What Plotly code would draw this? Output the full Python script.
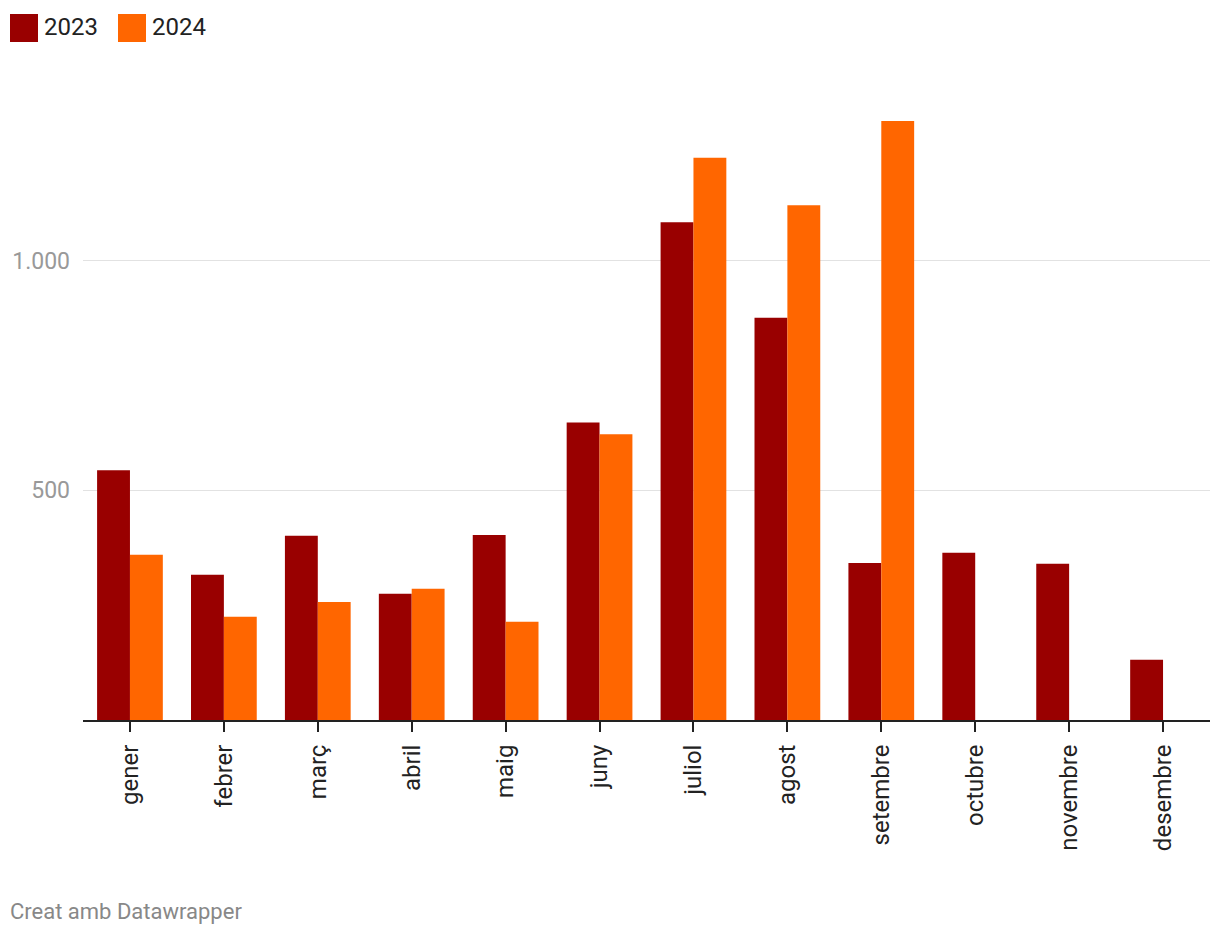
import plotly.graph_objects as go

months = ["gener", "febrer", "març", "abril", "maig", "juny", "juliol", "agost",
          "setembre", "octubre", "novembre", "desembre"]
v2023 = [544, 316, 401, 275, 403, 648, 1084, 876, 342, 364, 340, 131]
v2024 = [360, 225, 257, 286, 214, 622, 1224, 1121, 1304, None, None, None]
series_names = ["2023", "2024"]
colors = ["#990000", "#ff6600"]
ytick_vals = [500, 1000]
ytick_text = ["500", "1.000"]

fig = go.Figure()
for name, vals, col in zip(series_names, [v2023, v2024], colors):
    fig.add_trace(go.Bar(x=months, y=vals, name=name, marker=dict(color=col, line=dict(width=0)),
                         showlegend=False))

# custom legend
shapes = []
annotations = []
lx = [10, 118]
for i, (name, col) in enumerate(zip(series_names, colors)):
    shapes.append(dict(type="rect", xref="paper", yref="paper",
                       x0=(lx[i] - 83) / 1127, x1=(lx[i] + 28 - 83) / 1127,
                       y0=(720 - 42) / 643, y1=(720 - 14) / 643,
                       fillcolor=col, line=dict(width=0)))
    annotations.append(dict(text=name, xref="paper", yref="paper",
                            x=(lx[i] + 32 - 83) / 1127, y=(720 - 27) / 643,
                            xanchor="left", yanchor="middle", showarrow=False,
                            font=dict(size=24, color="#222", family="Roboto")))
annotations.append(dict(text="Creat amb Datawrapper", xref="paper", yref="paper",
                        x=(8 - 83) / 1127, y=(720 - 911) / 643, xanchor="left", yanchor="middle",
                        showarrow=False, font=dict(size=22, color="#888", family="Roboto")))

fig.update_layout(
    width=1220, height=936,
    margin=dict(l=83, r=10, t=77, b=216),
    paper_bgcolor="white", plot_bgcolor="white",
    barmode="group", bargap=0.3, bargroupgap=0,
    font=dict(family="Roboto", size=20, color="#222"),
    shapes=shapes, annotations=annotations,
    xaxis=dict(showgrid=False, showline=True, linecolor="#222", linewidth=2,
               ticks="outside", ticklen=10, tickwidth=2, tickcolor="#222",
               tickangle=-90, tickfont=dict(size=24, color="#222"), ticklabelstandoff=3),
    yaxis=dict(range=[0, 1400], tickvals=ytick_vals, ticktext=ytick_text, showgrid=True,
               gridcolor="#e2e2e2", gridwidth=1, zeroline=False, showline=False, ticks="",
               tickfont=dict(size=23, color="#999"), ticklabelstandoff=12),
)

fig.write_html("out.html")
